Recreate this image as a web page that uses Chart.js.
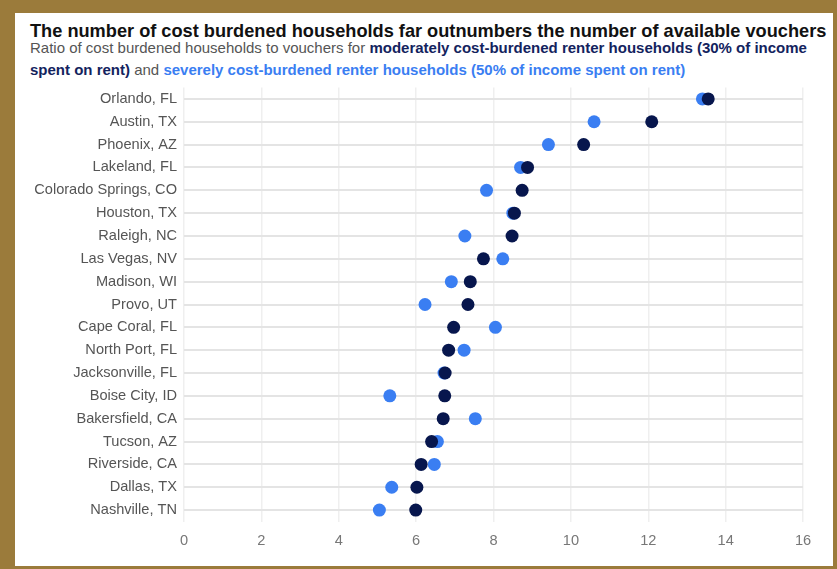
<!DOCTYPE html>
<html>
<head>
<meta charset="utf-8">
<script src="https://cdn.jsdelivr.net/npm/chart.js@4/dist/chart.umd.min.js"></script>
<style>
  html, body { margin: 0; padding: 0; }
  body { width: 837px; height: 569px; background: #9b7b3b; position: relative; overflow: hidden;
         font-family: "Liberation Sans", Arial, sans-serif; }
  #panel { position: absolute; left: 15px; top: 13px; width: 818px; height: 553px; background: #ffffff; }
  #title { position: absolute; left: 30px; top: 21px; font-size: 18.2px; font-weight: bold; color: #111; white-space: nowrap; }
  #subtitle { position: absolute; left: 30px; top: 37px; font-size: 15px; line-height: 22px; color: #555; white-space: nowrap; }
  #subtitle .mod { color: #13235e; font-weight: bold; }
  #subtitle .sev { color: #3a7ef2; font-weight: bold; }
  #wrap { position: absolute; left: 0; top: 0; width: 837px; height: 569px; }
</style>
</head>
<body>
<div id="panel"></div>
<div id="title">The number of cost burdened households far outnumbers the number of available vouchers</div>
<div id="subtitle">Ratio of cost burdened households to vouchers for <span class="mod">moderately cost-burdened renter households (30% of income</span><br><span class="mod">spent on rent)</span> and <span class="sev">severely cost-burdened renter households (50% of income spent on rent)</span></div>
<div id="wrap"><canvas id="chart" width="837" height="569"></canvas></div>
<script>
// Metro areas, top to bottom
const metros = [
  "Orlando, FL", "Austin, TX", "Phoenix, AZ", "Lakeland, FL", "Colorado Springs, CO",
  "Houston, TX", "Raleigh, NC", "Las Vegas, NV", "Madison, WI", "Provo, UT",
  "Cape Coral, FL", "North Port, FL", "Jacksonville, FL", "Boise City, ID", "Bakersfield, CA",
  "Tucson, AZ", "Riverside, CA", "Dallas, TX", "Nashville, TN"
];

// Ratio of cost-burdened renter households to vouchers
const moderateRatio = [13.55, 12.09, 10.33, 8.88, 8.74, 8.54, 8.48, 7.74, 7.40, 7.34,
                       6.97, 6.84, 6.75, 6.74, 6.70, 6.40, 6.13, 6.02, 5.99];
const severeRatio   = [13.40, 10.60, 9.42, 8.70, 7.82, 8.50, 7.26, 8.24, 6.91, 6.23,
                       8.05, 7.24, 6.72, 5.32, 7.53, 6.55, 6.47, 5.37, 5.05];

const xTicks = [0, 2, 4, 6, 8, 10, 12, 14, 16];

const navy = "#07164d";
const blue = "#3a7ef2";
const tickFont = { family: "'Liberation Sans', Arial, sans-serif", size: 14.6 };

new Chart(document.getElementById("chart"), {
  type: "line",
  data: {
    labels: metros,
    datasets: [
      { label: "Moderately cost-burdened (30%)", data: moderateRatio, showLine: false,
        pointRadius: 6.5, pointBackgroundColor: navy, pointBorderColor: navy, pointBorderWidth: 0, borderColor: navy },
      { label: "Severely cost-burdened (50%)", data: severeRatio, showLine: false,
        pointRadius: 6.5, pointBackgroundColor: blue, pointBorderColor: blue, pointBorderWidth: 0, borderColor: blue }
    ]
  },
  options: {
    indexAxis: "y",
    responsive: false,
    animation: false,
    layout: { padding: { left: 15, right: 34, top: 87.5, bottom: 20 } },
    plugins: { legend: { display: false }, tooltip: { enabled: false } },
    scales: {
      x: {
        type: "linear",
        min: 0, max: 16,
        afterBuildTicks: (s) => { s.ticks = xTicks.map(v => ({ value: v })); },
        grid: { color: "#efefef", lineWidth: 1.5, drawTicks: false },
        border: { display: false },
        ticks: { color: "#777", font: tickFont, padding: 11 },
        afterFit: (s) => { s.height = 27.5; }
      },
      y: {
        type: "category",
        offset: true,
        grid: { color: "#e4e4e4", lineWidth: 2, drawTicks: false, offset: false },
        border: { display: false },
        ticks: { color: "#555", font: tickFont, padding: 7 },
        afterFit: (s) => { s.width = 169; }
      }
    }
  }
});
</script>
</body>
</html>
